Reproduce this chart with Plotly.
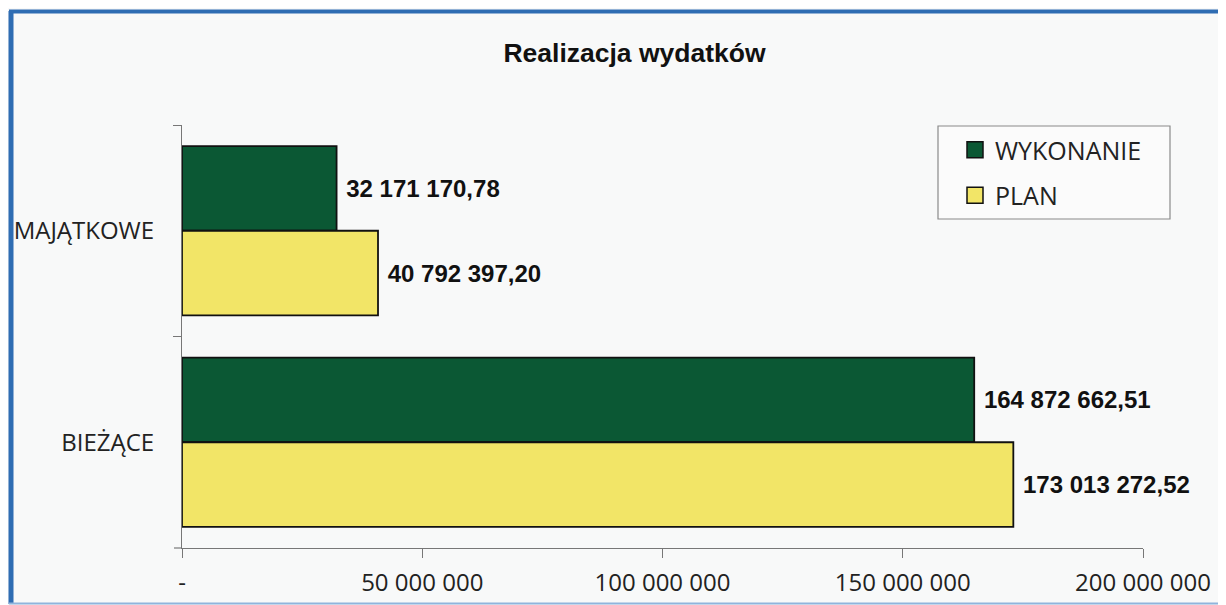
import plotly.graph_objects as go

categories = ["MAJĄTKOWE", "BIEŻĄCE"]
wykonanie = [32171170.78, 164872662.51]
plan = [40792397.20, 173013272.52]
series_names = ["WYKONANIE", "PLAN"]
tick_vals = [0, 50000000, 100000000, 150000000, 200000000]
tick_text = ["-", "50 000 000", "100 000 000", "150 000 000", "200 000 000"]
title_text = "Realizacja wydatków"

GREEN = "#0b5834"
YELLOW = "#f2e567"
BG = "#f8f9f9"

OFF = 8  # page body margin offset
W, H = 1226 - OFF, 605 - OFF
L, R, T, B = 182 - OFF, 1143 - OFF, 125 - OFF, 548 - OFF

fig = go.Figure()
for name, vals, col in [(series_names[0], wykonanie, GREEN), (series_names[1], plan, YELLOW)]:
    fig.add_trace(go.Bar(
        y=categories, x=vals, name=name, orientation="h",
        marker=dict(color=col, line=dict(color="#111111", width=1.8)),
        texttemplate="\u00a0%{x:,.2f}", textposition="outside",
        textfont=dict(family="Liberation Sans", size=24, color="#111111", weight="bold"),
        cliponaxis=False, constraintext="none", showlegend=False,
    ))
    fig.add_trace(go.Scatter(
        x=[None], y=[None], mode="markers", name=name, legendgroup=name,
        marker=dict(symbol="square", size=17, color=col, line=dict(color="#111111", width=1.5)),
    ))

def px(xp):
    return (xp - OFF - L) / (R - L)

def py(yp):
    return (B - (yp - OFF)) / (B - T)

shapes = [
    dict(type="line", xref="paper", yref="paper", x0=px(11), x1=px(11), y0=py(11), y1=py(604),
         line=dict(color="#2f6db3", width=5)),
    dict(type="line", xref="paper", yref="paper", x0=px(9), x1=px(1230), y0=py(11.5), y1=py(11.5),
         line=dict(color="#2f6db3", width=4)),
    dict(type="line", xref="paper", yref="paper", x0=px(9), x1=px(1230), y0=py(603.5), y1=py(603.5),
         line=dict(color="#8fb4dc", width=2)),
    dict(type="line", xref="paper", yref="paper", x0=px(174), x1=px(182), y0=0, y1=0,
         line=dict(color="#777777", width=1.2)),
    # legend frame
    dict(type="rect", xref="paper", yref="paper", x0=px(938), x1=px(1170), y0=py(126), y1=py(219),
         fillcolor="#fbfbfb", line=dict(color="#8a8a8a", width=1.2), layer="above"),
]

fig.update_layout(
    width=W, height=H,
    margin=dict(l=L, r=W - R, t=T, b=H - B, pad=0),
    paper_bgcolor=BG, plot_bgcolor=BG,
    barmode="group", bargap=0.2, bargroupgap=0,
    separators=", ",
    title=dict(text=title_text, x=(634.5 - OFF) / W, xanchor="center", y=1 - (53 - OFF) / H, yanchor="middle",
               font=dict(family="Liberation Sans", size=26.5, color="#111111", weight="bold")),
    font=dict(family="Open Sans", color="#222222"),
    legend=dict(x=px(955), y=py(127), xanchor="left", yanchor="top",
                bgcolor="rgba(0,0,0,0)", borderwidth=0,
                font=dict(family="Open Sans", size=25, color="#222222"),
                traceorder="grouped", tracegroupgap=10, itemwidth=30),
    shapes=shapes,
    showlegend=True,
)
fig.update_xaxes(range=[0, 200000000], tickvals=tick_vals, ticktext=tick_text, automargin=False,
                 showgrid=False, zeroline=False, showline=True, linecolor="#777777", linewidth=1.2,
                 ticks="outside", ticklen=9, tickcolor="#777777", tickwidth=1.2, ticklabelstandoff=4,
                 tickfont=dict(family="Open Sans", size=24, color="#222222"))
fig.update_yaxes(categoryorder="array", categoryarray=categories, autorange="reversed", automargin=False,
                 showgrid=False, zeroline=False, showline=True, linecolor="#777777", linewidth=1.2,
                 ticks="outside", ticklen=8, tickcolor="#777777", tickwidth=1.2, tickson="boundaries",
                 ticklabelstandoff=22,
                 tickfont=dict(family="Open Sans", size=24, color="#222222"))

fig.write_html("out.html")
